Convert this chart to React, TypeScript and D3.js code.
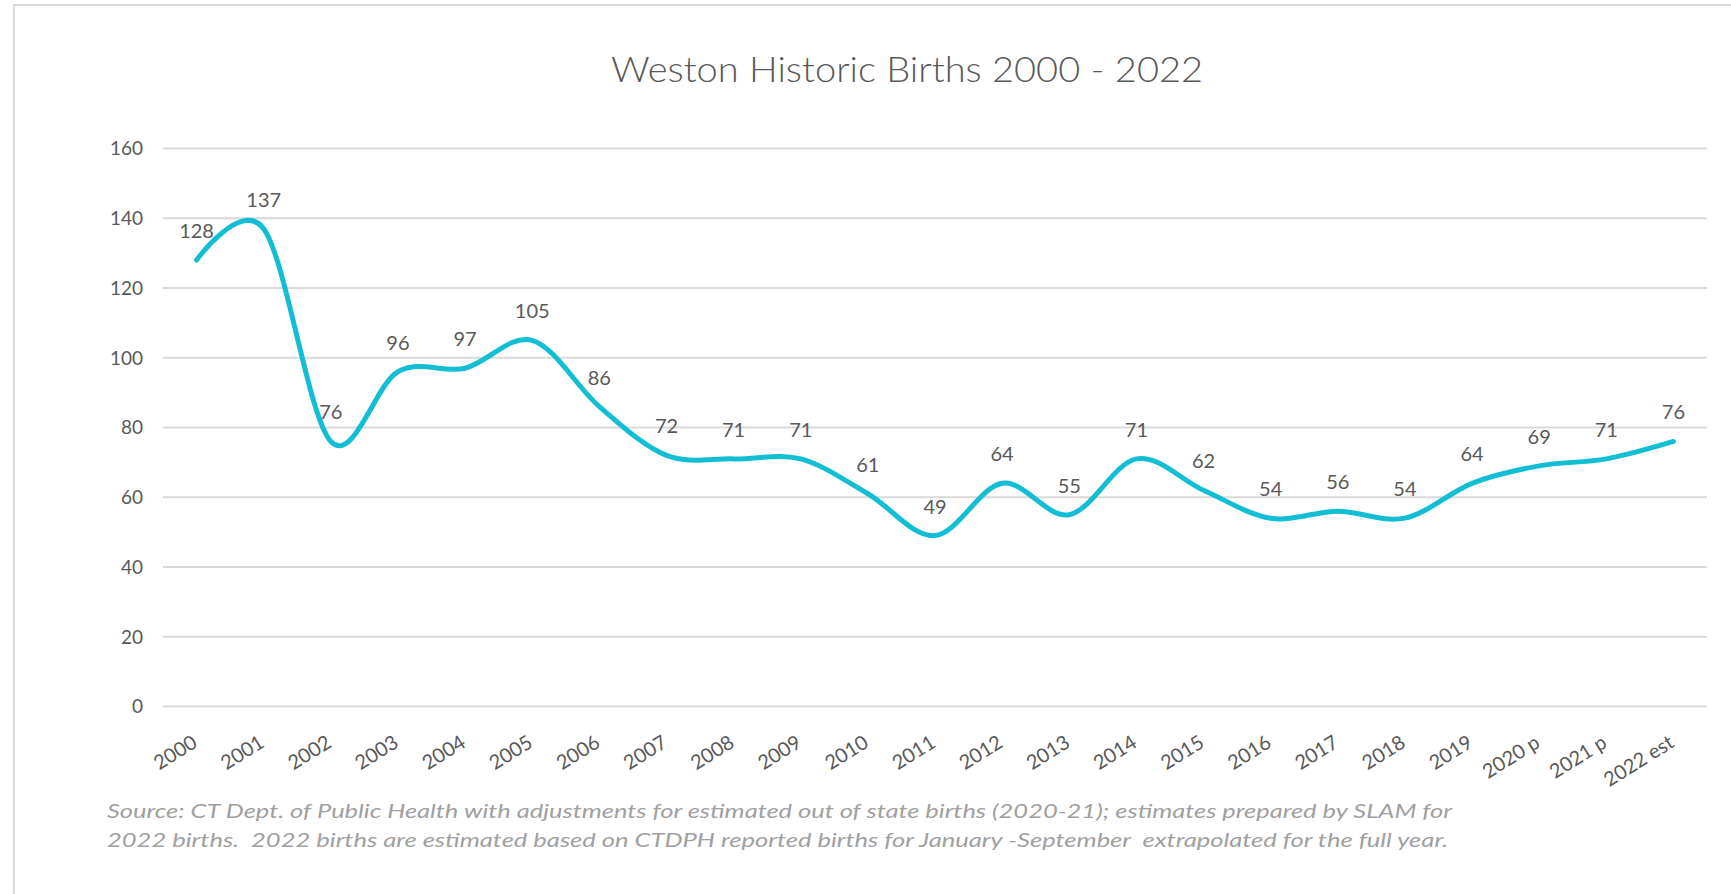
import React from 'react';
import * as d3 from 'd3';

const years = ['2000', '2001', '2002', '2003', '2004', '2005', '2006', '2007', '2008', '2009', '2010', '2011',
  '2012', '2013', '2014', '2015', '2016', '2017', '2018', '2019', '2020 p', '2021 p', '2022 est'];
const births = [128, 137, 76, 96, 97, 105, 86, 72, 71, 71, 61, 49, 64, 55, 71, 62, 54, 56, 54, 64, 69, 71, 76];
const yTicks = [0, 20, 40, 60, 80, 100, 120, 140, 160];
const title = 'Weston Historic Births 2000 - 2022';
const notes = [
  'Source: CT Dept. of Public Health with adjustments for estimated out of state births (2020-21); estimates prepared by SLAM for',
  '2022 births.  2022 births are estimated based on CTDPH reported births for January -September  extrapolated for the full year.',
];

const font = 'Lato, "Open Sans", sans-serif';

export default function App() {
  const width = 1731, height = 894;
  const left = 163, right = 1707, top = 148.5, bottom = 706.5;

  const x = d3.scaleBand().domain(years).range([left, right]);
  const y = d3.scaleLinear().domain([0, 160]).range([bottom, top]);
  const cx = (d: string) => (x(d) as number) + x.bandwidth() / 2;

  // excel-style smoothed line
  const line = d3.line<number>()
    .x((_, i) => cx(years[i]))
    .y(d => y(d))
    .curve(d3.curveCatmullRom.alpha(0));

  return (
    <svg width={width} height={height} style={{ position: 'absolute', left: 0, top: 0, background: '#fff' }}
      fontFamily={font}>
      <rect x={14} y={5} width={1760} height={920} fill="#fff" stroke="#d9d9d9" strokeWidth={2} />

      <text x={907} y={81.5} textAnchor="middle" fontSize={36} fontWeight={300} fill="#595959" textLength={592}
        lengthAdjust="spacingAndGlyphs">{title}</text>

      {yTicks.map(t => (
        <g key={t}>
          <line x1={left} x2={right} y1={y(t)} y2={y(t)} stroke="#d9d9d9" strokeWidth={2} />
          <text x={143} y={y(t)} dy="0.36em" textAnchor="end" fontSize={19} fill="#595959">{t}</text>
        </g>
      ))}

      <path d={line(births) || ''} fill="none" stroke="#12BED3" strokeWidth={5} strokeLinecap="round" />

      {births.map((v, i) => (
        <text key={i} x={cx(years[i])} y={y(v) - 22} textAnchor="middle" fontSize={20} fill="#595959">{v}</text>
      ))}

      {years.map(yr => (
        <text key={yr} transform={`translate(${cx(yr) + 2},746) rotate(-32)`} textAnchor="end" fontSize={20}
          fill="#595959">{yr}</text>
      ))}

      {notes.map((n, i) => (
        <text key={i} x={107} y={818 + i * 29} fontSize={20} fontStyle="italic" fill="#a0a0a0"
          style={{ whiteSpace: 'pre' }} textLength={i === 0 ? 1345 : 1341}
          lengthAdjust="spacingAndGlyphs">{n}</text>
      ))}
    </svg>
  );
}
